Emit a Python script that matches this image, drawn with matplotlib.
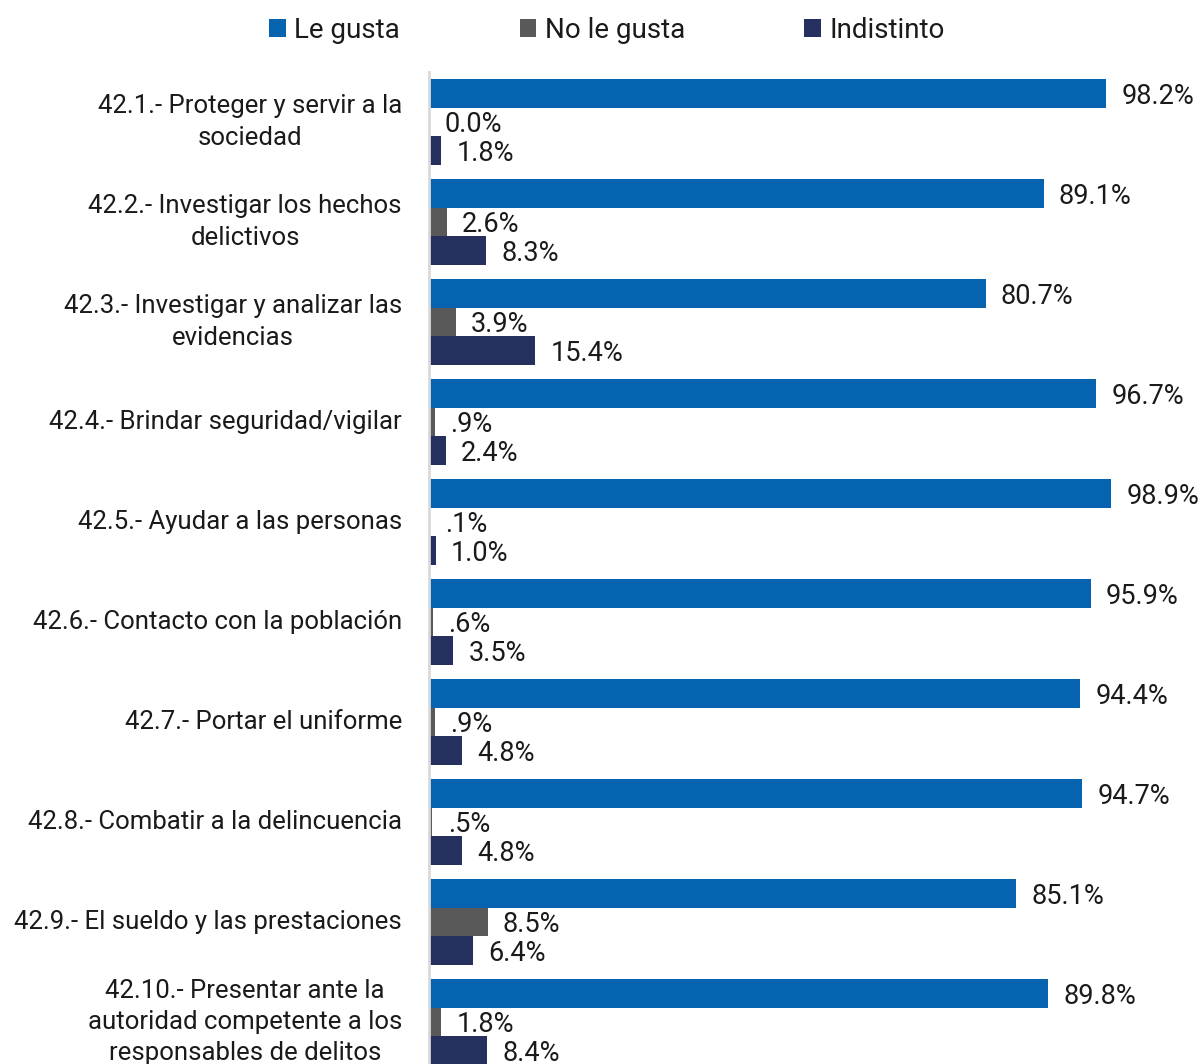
import matplotlib
matplotlib.use('Agg')
import matplotlib.pyplot as plt
import numpy as np

plt.rcParams['font.family'] = ['Roboto', 'DejaVu Sans']

categories = [
    '42.1.- Proteger y servir a la\nsociedad',
    '42.2.- Investigar los hechos\ndelictivos',
    '42.3.- Investigar y analizar las\nevidencias',
    '42.4.- Brindar seguridad/vigilar',
    '42.5.- Ayudar a las personas',
    '42.6.- Contacto con la población',
    '42.7.- Portar el uniforme',
    '42.8.- Combatir a la delincuencia',
    '42.9.- El sueldo y las prestaciones',
    '42.10.- Presentar ante la\nautoridad competente a los\nresponsables de delitos',
]
le_gusta = [98.2, 89.1, 80.7, 96.7, 98.9, 95.9, 94.4, 94.7, 85.1, 89.8]
no_le_gusta = [0.0, 2.6, 3.9, 0.9, 0.1, 0.6, 0.9, 0.5, 8.5, 1.8]
indistinto = [1.8, 8.3, 15.4, 2.4, 1.0, 3.5, 4.8, 4.8, 6.4, 8.4]

series = [
    ('Le gusta', le_gusta, '#0563B0'),
    ('No le gusta', no_le_gusta, '#595959'),
    ('Indistinto', indistinto, '#25305F'),
]


def fmt(v):
    s = f'{v:.1f}%'
    if 0 < v < 1:
        s = s[1:]
    return s


fig = plt.figure(figsize=(12.03, 10.64), dpi=100)
ax = fig.add_axes([429 / 1203, 0, 1 - 429 / 1203, 1 - 72 / 1064])

y = np.arange(len(categories))
h = 0.286
for k, (name, vals, col) in enumerate(series):
    pos = y + (k - 1) * h
    ax.barh(pos, vals, height=h, color=col, label=name)
    for p, v in zip(pos, vals):
        ax.annotate(fmt(v), (v, p), xytext=(11, 0), textcoords='offset points',
                    ha='left', va='center_baseline', fontsize=19.5, color='#1a1a1a')

ax.set_xlim(0, 112.2)
ax.set_ylim(9.42, -0.5)
ax.set_yticks(y)
ax.set_yticklabels(categories, fontsize=18.5, color='#1a1a1a', multialignment='center',
                   linespacing=1.38, va='center')
ax.tick_params(axis='y', length=0, pad=19.5)
ax.set_xticks([])
for s in ['top', 'right', 'bottom']:
    ax.spines[s].set_visible(False)
ax.spines['left'].set_color('#D9D9D9')
ax.spines['left'].set_linewidth(2)

fig.legend(loc='center', bbox_to_anchor=(607 / 1203, 1 - 30 / 1064), ncol=3,
           frameon=False, fontsize=20, handlelength=0.6, handleheight=0.6,
           handletextpad=0.3, columnspacing=4.3, labelcolor='#1a1a1a')

fig.savefig('out.png', dpi=100)
